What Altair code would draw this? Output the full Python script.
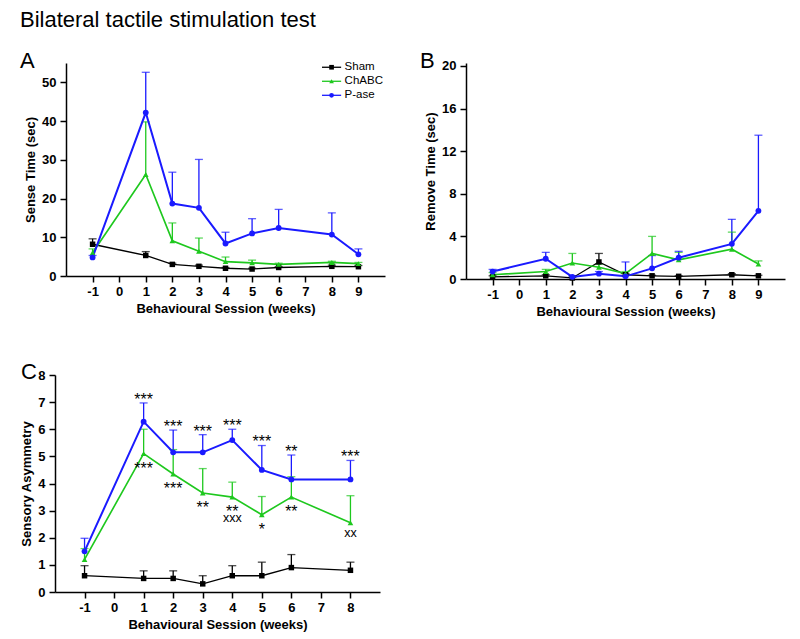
import altair as alt
import pandas as pd

FONT = "Liberation Sans"

groups = ["Sham", "ChABC", "P-ase"]
colors = ["#000000", "#1ec81e", "#1a1aff"]
shapes = ["square", "triangle-up", "circle"]

weeks_ab = [-1, 1, 2, 3, 4, 5, 6, 8, 9]
weeks_c = [-1, 1, 2, 3, 4, 5, 6, 8]

# Panel A: Sense Time (sec) - mean and SEM
sense_sham = [8.2, 5.3, 3.0, 2.5, 2.0, 1.8, 2.2, 2.5, 2.4]
sense_sham_sem = [1.4, 1.0, 0.3, 0.3, 0.2, 0.2, 0.2, 0.3, 0.3]
sense_chabc = [6.0, 26.2, 9.1, 6.4, 3.7, 3.4, 3.0, 3.5, 3.2]
sense_chabc_sem = [1.0, 13.6, 4.6, 3.4, 1.2, 0.7, 0.3, 0.3, 0.3]
sense_pase = [4.8, 42.2, 18.7, 17.6, 8.4, 11.0, 12.4, 10.7, 5.6]
sense_pase_sem = [0.5, 10.4, 8.1, 12.5, 2.9, 3.8, 4.8, 5.6, 1.4]

# Panel B: Remove Time (sec)
remove_sham = [0.2, 0.3, 0.1, 1.6, 0.4, 0.3, 0.25, 0.4, 0.3]
remove_sham_sem = [0.1, 0.1, 0.05, 0.8, 0.1, 0.05, 0.05, 0.1, 0.05]
remove_chabc = [0.4, 0.7, 1.5, 1.1, 0.5, 2.4, 1.8, 2.8, 1.4]
remove_chabc_sem = [0.2, 0.2, 0.9, 0.3, 0.2, 1.6, 0.7, 1.6, 0.3]
remove_pase = [0.7, 1.9, 0.2, 0.5, 0.25, 1.0, 2.0, 3.3, 6.4]
remove_pase_sem = [0.2, 0.6, 0.1, 0.2, 1.35, 1.2, 0.6, 2.3, 7.1]

# Panel C: Sensory Asymmetry
asym_sham = [0.6, 0.5, 0.5, 0.3, 0.6, 0.6, 0.9, 0.8]
asym_sham_sem = [0.37, 0.28, 0.28, 0.3, 0.37, 0.5, 0.48, 0.3]
asym_chabc = [1.2, 5.1, 4.35, 3.65, 3.5, 2.85, 3.5, 2.55]
asym_chabc_sem = [0.4, 0.9, 0.9, 0.9, 0.55, 0.67, 0.75, 1.0]
asym_pase = [1.5, 6.28, 5.15, 5.15, 5.6, 4.5, 4.15, 4.15]
asym_pase_sem = [0.48, 0.69, 0.82, 0.65, 0.4, 0.9, 0.9, 0.7]

# Significance marks in panel C
pase_stars = ["", "***", "***", "***", "***", "***", "**", "***"]
chabc_stars = ["", "***", "***", "**", "**", "*", "**", ""]
chabc_vs_pase = ["", "", "", "", "xxx", "", "", "xx"]


def frame(weeks, series):
    rows = []
    for g, (m, s) in zip(groups, series):
        for w, mv, sv in zip(weeks, m, s):
            rows.append({"week": w, "group": g, "mean": mv, "top": mv + sv})
    return pd.DataFrame(rows)


df_a = frame(weeks_ab, [(sense_sham, sense_sham_sem), (sense_chabc, sense_chabc_sem),
                        (sense_pase, sense_pase_sem)])
df_b = frame(weeks_ab, [(remove_sham, remove_sham_sem), (remove_chabc, remove_chabc_sem),
                        (remove_pase, remove_pase_sem)])
df_c = frame(weeks_c, [(asym_sham, asym_sham_sem), (asym_chabc, asym_chabc_sem),
                       (asym_pase, asym_pase_sem)])

color = alt.Color("group:N", scale=alt.Scale(domain=groups, range=colors), legend=None)
shape = alt.Shape("group:N", scale=alt.Scale(domain=groups, range=shapes), legend=None)
size = alt.Size("group:N", scale=alt.Scale(domain=groups, range=[30, 34, 50]), legend=None)
swidth = alt.StrokeWidth("group:N", scale=alt.Scale(domain=groups, range=[1.3, 2, 2]), legend=None)

LABEL_EXPR = "'' + datum.value"


def make_axes(xdom, xvals, ydom, yvals, ytitle):
    xs = alt.Scale(domain=xdom, nice=False, zero=False)
    ys = alt.Scale(domain=ydom, nice=False)
    xa = alt.Axis(values=xvals, title="Behavioural Session (weeks)", labelExpr=LABEL_EXPR,
                  labelOverlap=False, labelFlush=False)
    ya = alt.Axis(values=yvals, title=ytitle, labelExpr=LABEL_EXPR, labelOverlap=False,
                  labelFlush=False)
    X = lambda f: alt.X(f, scale=xs, axis=xa)
    Y = lambda f: alt.Y(f, scale=ys, axis=ya)
    return X, Y


def panel(df, X, Y, letter, ldx, ldy):
    base = alt.Chart(df)
    err = base.mark_rule(strokeWidth=1.3).encode(x=X("week:Q"), y=Y("mean:Q"), y2="top:Q",
                                                 color=color)
    cap = base.mark_tick(orient="horizontal", size=8, thickness=1.3).encode(
        x=X("week:Q"), y=Y("top:Q"), color=color)
    line = base.mark_line().encode(x=X("week:Q"), y=Y("mean:Q"), color=color, strokeWidth=swidth)
    pts = base.mark_point(filled=True, opacity=1).encode(
        x=X("week:Q"), y=Y("mean:Q"), color=color, shape=shape, size=size)
    let = alt.Chart(pd.DataFrame({"t": [letter]})).mark_text(
        align="left", baseline="alphabetic", fontSize=22, font=FONT, color="black"
    ).encode(x=alt.value(ldx), y=alt.value(ldy), text="t:N")
    return [err, cap, line, pts, let]


# Panel A
XA, YA = make_axes([-2, 10], list(range(-1, 10)), [0, 55], [0, 10, 20, 30, 40, 50],
                   "Sense Time (sec)")
la = panel(df_a, XA, YA, "A", -46, 5)
leg = pd.DataFrame({"group": groups})
leg["i"] = range(len(groups))
lbase = alt.Chart(leg).transform_calculate(
    ly="53.9 - 3.62 * datum.i", lx1="7.63", lx2="8.35", lxm="7.99", lxt="8.48")
leg_rule = lbase.mark_rule(strokeWidth=1.3).encode(
    x=XA("lx1:Q"), x2="lx2:Q", y=YA("ly:Q"), color=color)
leg_pt = lbase.mark_point(filled=True, opacity=1).encode(
    x=XA("lxm:Q"), y=YA("ly:Q"), color=color, shape=shape, size=alt.value(22))
leg_txt = lbase.mark_text(align="left", baseline="middle", fontSize=11.5, font=FONT,
                          color="black").encode(x=XA("lxt:Q"), y=YA("ly:Q"), text="group:N")
chart_a = alt.layer(*la, leg_rule, leg_pt, leg_txt).properties(width=319, height=213)

# Panel B (axis drawn slightly lower than A in the reference: top of scale a bit above 20)
XB, YB = make_axes([-2, 10], list(range(-1, 10)), [0, 20.28], [0, 4, 8, 12, 16, 20],
                   "Remove Time (sec)")
chart_b = alt.layer(*panel(df_b, XB, YB, "B", -46, 5)).properties(width=319, height=216)

# Panel C
XC, YC = make_axes([-2, 9], list(range(-1, 9)), [0, 8], list(range(0, 9)), "Sensory Asymmetry")
lc = panel(df_c, XC, YC, "C", -34, 4)

ann_rows = []
for i, w in enumerate(weeks_c):
    ptop = asym_pase[i] + asym_pase_sem[i]
    if pase_stars[i]:
        ann_rows.append({"week": w, "y": ptop + 0.26, "txt": pase_stars[i], "kind": "star"})
    if chabc_stars[i]:
        ann_rows.append({"week": w, "y": asym_chabc[i] - 0.4, "txt": chabc_stars[i], "kind": "star"})
    if chabc_vs_pase[i]:
        off = 0.8 if chabc_stars[i] else 0.43
        ann_rows.append({"week": w, "y": asym_chabc[i] - off, "txt": chabc_vs_pase[i], "kind": "x"})
ann = pd.DataFrame(ann_rows)
stars = alt.Chart(ann).transform_filter("datum.kind == 'star'").mark_text(
    align="center", baseline="alphabetic", dy=9, fontSize=16, font=FONT, color="black"
).encode(x=XC("week:Q"), y=YC("y:Q"), text="txt:N")
xmarks = alt.Chart(ann).transform_filter("datum.kind == 'x'").mark_text(
    align="center", baseline="alphabetic", dy=3, fontSize=12.5, font=FONT, color="black"
).encode(x=XC("week:Q"), y=YC("y:Q"), text="txt:N")
chart_c = alt.layer(*lc, stars, xmarks).properties(width=325, height=217)

# tiny invisible spacer so that panel A's plot can sit a little right of panel C's
spacer = alt.Chart(pd.DataFrame({"s": [0]})).mark_rule(opacity=0, strokeWidth=0).encode(
    x=alt.value(0), y=alt.value(0), y2=alt.value(1)).properties(width=1, height=1)

top = alt.hconcat(alt.hconcat(spacer, chart_a, spacing=-36), chart_b, spacing=35)
chart = alt.vconcat(top, chart_c, spacing=43).properties(
    title=alt.TitleParams("Bilateral tactile stimulation test", anchor="start", fontSize=22,
                          font=FONT, fontWeight="normal", color="black", offset=18),
    padding={"left": 12, "top": 1, "right": 5, "bottom": 5},
).configure_view(stroke=None).configure_axis(
    grid=False, domainColor="black", domainWidth=1.5, tickColor="black", tickWidth=1.5,
    tickSize=6, labelFont=FONT, labelFontSize=13, labelFontWeight="bold", labelColor="black",
    titleFont=FONT, titleFontSize=13, titleFontWeight="bold", titleColor="black",
).configure_axisY(labelPadding=4, titlePadding=4).configure_axisX(labelPadding=3, titlePadding=4)

chart.save("out.html", embed_options={"renderer": "svg", "actions": False})
